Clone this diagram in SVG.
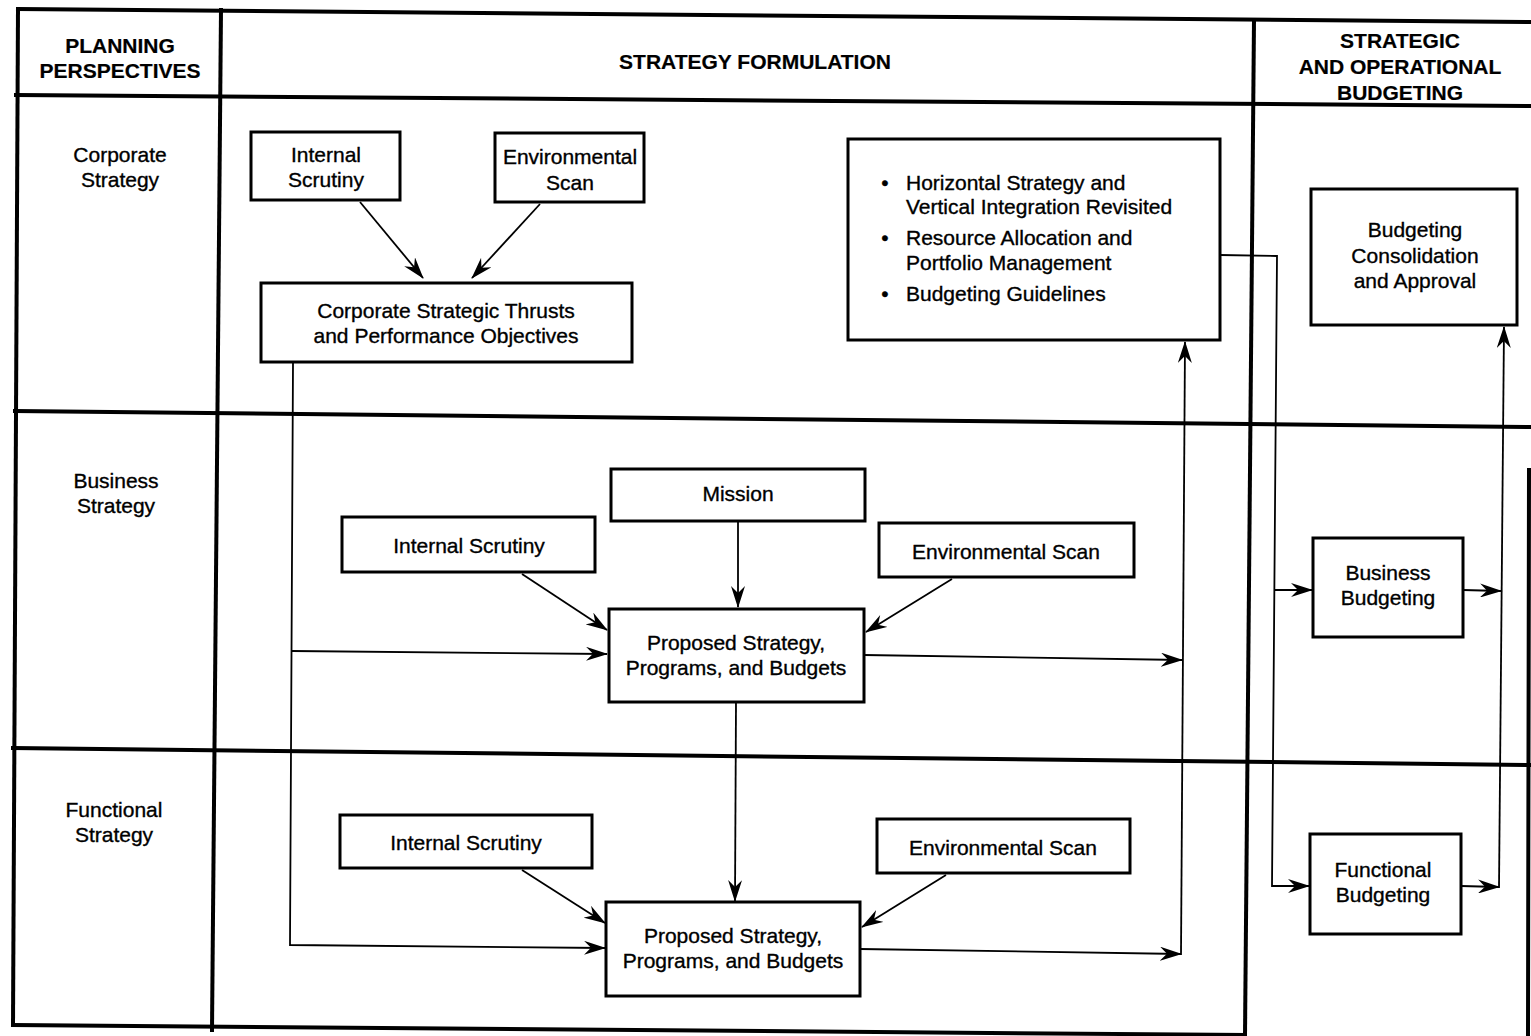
<svg xmlns="http://www.w3.org/2000/svg" width="1531" height="1036" viewBox="0 0 1531 1036">
  <defs>
    <style>
      .frame { stroke: #000; stroke-width: 4; fill: none; stroke-linecap: square; }
      .box { fill: #fff; stroke: #000; stroke-width: 3; }
      .conn { stroke: #000; stroke-width: 1.8; fill: none; }
      .t { font-family: "Liberation Sans", Arial, Helvetica, sans-serif; font-size: 21px; fill: #000; stroke: #000; stroke-width: 0.35; text-anchor: middle; }
      .l { text-anchor: start; }
      .h { font-weight: bold; stroke-width: 0.2; }
    </style>
    <marker id="arr" viewBox="0 0 22 14" refX="21" refY="7" markerWidth="22" markerHeight="14" markerUnits="userSpaceOnUse" orient="auto">
      <path d="M0,0 L22,7 L0,14 L7,7 z" fill="#000"/>
    </marker>
  </defs>

  <rect x="0" y="0" width="1531" height="1036" fill="#fff"/>

  <!-- table grid -->
  <g id="grid">
    <line class="frame" x1="18" y1="9" x2="1531" y2="22"/>
    <line class="frame" x1="16" y1="95" x2="1531" y2="106"/>
    <line class="frame" x1="15" y1="411" x2="1531" y2="427"/>
    <line class="frame" x1="13" y1="748" x2="1531" y2="765"/>
    <line class="frame" x1="13" y1="1025" x2="1245" y2="1035"/>
    <line class="frame" x1="18" y1="9" x2="13" y2="1025"/>
    <line class="frame" x1="221" y1="10" x2="212" y2="1030"/>
    <line class="frame" x1="1254" y1="20" x2="1245" y2="1036"/>
    <line class="frame" x1="1529" y1="470" x2="1528" y2="1036"/>
  </g>

  <!-- column and row headings -->
  <g id="hdr-planning">
    <text class="t h" x="120" y="53">PLANNING</text>
    <text class="t h" x="120" y="78">PERSPECTIVES</text>
  </g>
  <g id="hdr-formulation">
    <text class="t h" x="755" y="69">STRATEGY FORMULATION</text>
  </g>
  <g id="hdr-budgeting">
    <text class="t h" x="1400" y="48">STRATEGIC</text>
    <text class="t h" x="1400" y="74">AND OPERATIONAL</text>
    <text class="t h" x="1400" y="100">BUDGETING</text>
  </g>
  <g id="row-corporate">
    <text class="t" x="120" y="162">Corporate</text>
    <text class="t" x="120" y="187">Strategy</text>
  </g>
  <g id="row-business">
    <text class="t" x="116" y="488">Business</text>
    <text class="t" x="116" y="513">Strategy</text>
  </g>
  <g id="row-functional">
    <text class="t" x="114" y="817">Functional</text>
    <text class="t" x="114" y="842">Strategy</text>
  </g>

  <!-- connectors -->
  <g id="connectors">
    <line class="conn" x1="360" y1="202" x2="423" y2="278" marker-end="url(#arr)"/>
    <line class="conn" x1="540" y1="204" x2="472" y2="278" marker-end="url(#arr)"/>
    <polyline class="conn" points="293,363 290,945 605,948" marker-end="url(#arr)"/>
    <line class="conn" x1="292" y1="651" x2="607" y2="654" marker-end="url(#arr)"/>
    <line class="conn" x1="738" y1="522" x2="738" y2="607" marker-end="url(#arr)"/>
    <line class="conn" x1="522" y1="574" x2="607" y2="630" marker-end="url(#arr)"/>
    <line class="conn" x1="952" y1="579" x2="866" y2="632" marker-end="url(#arr)"/>
    <line class="conn" x1="864" y1="655" x2="1182" y2="660" marker-end="url(#arr)"/>
    <line class="conn" x1="736" y1="702" x2="735" y2="901" marker-end="url(#arr)"/>
    <line class="conn" x1="522" y1="870" x2="605" y2="923" marker-end="url(#arr)"/>
    <line class="conn" x1="946" y1="875" x2="862" y2="927" marker-end="url(#arr)"/>
    <line class="conn" x1="860" y1="949" x2="1181" y2="954" marker-end="url(#arr)"/>
    <line class="conn" x1="1181" y1="955" x2="1185" y2="342" marker-end="url(#arr)"/>
    <polyline class="conn" points="1220,255 1277,256 1272,886 1309,886" marker-end="url(#arr)"/>
    <line class="conn" x1="1275" y1="590" x2="1312" y2="590" marker-end="url(#arr)"/>
    <line class="conn" x1="1463" y1="590" x2="1501" y2="591" marker-end="url(#arr)"/>
    <line class="conn" x1="1461" y1="886" x2="1499" y2="887" marker-end="url(#arr)"/>
    <line class="conn" x1="1499" y1="888" x2="1504" y2="327" marker-end="url(#arr)"/>
  </g>

  <!-- corporate strategy row -->
  <g id="corp-internal">
    <rect class="box" x="251" y="132" width="149" height="68"/>
    <text class="t" x="326" y="162">Internal</text>
    <text class="t" x="326" y="187">Scrutiny</text>
  </g>
  <g id="corp-env">
    <rect class="box" x="495" y="133" width="149" height="69"/>
    <text class="t" x="570" y="164">Environmental</text>
    <text class="t" x="570" y="190">Scan</text>
  </g>
  <g id="corp-thrusts">
    <rect class="box" x="261" y="283" width="371" height="79"/>
    <text class="t" x="446" y="318">Corporate Strategic Thrusts</text>
    <text class="t" x="446" y="343">and Performance Objectives</text>
  </g>
  <g id="corp-portfolio">
    <rect class="box" x="848" y="139" width="372" height="201"/>
    <text class="t" x="885" y="190">•</text>
    <text class="t l" x="906" y="190">Horizontal Strategy and</text>
    <text class="t l" x="906" y="214">Vertical Integration Revisited</text>
    <text class="t" x="885" y="245">•</text>
    <text class="t l" x="906" y="245">Resource Allocation and</text>
    <text class="t l" x="906" y="270">Portfolio Management</text>
    <text class="t" x="885" y="301">•</text>
    <text class="t l" x="906" y="301">Budgeting Guidelines</text>
  </g>
  <g id="budget-consolidation">
    <rect class="box" x="1311" y="189" width="206" height="136"/>
    <text class="t" x="1415" y="237">Budgeting</text>
    <text class="t" x="1415" y="263">Consolidation</text>
    <text class="t" x="1415" y="288">and Approval</text>
  </g>

  <!-- business strategy row -->
  <g id="biz-mission">
    <rect class="box" x="611" y="469" width="254" height="52"/>
    <text class="t" x="738" y="501">Mission</text>
  </g>
  <g id="biz-internal">
    <rect class="box" x="342" y="517" width="253" height="55"/>
    <text class="t" x="469" y="553">Internal Scrutiny</text>
  </g>
  <g id="biz-env">
    <rect class="box" x="879" y="523" width="255" height="54"/>
    <text class="t" x="1006" y="559">Environmental Scan</text>
  </g>
  <g id="biz-proposed">
    <rect class="box" x="609" y="609" width="255" height="93"/>
    <text class="t" x="736" y="650">Proposed Strategy,</text>
    <text class="t" x="736" y="675">Programs, and Budgets</text>
  </g>
  <g id="business-budgeting">
    <rect class="box" x="1313" y="538" width="150" height="99"/>
    <text class="t" x="1388" y="580">Business</text>
    <text class="t" x="1388" y="605">Budgeting</text>
  </g>

  <!-- functional strategy row -->
  <g id="fn-internal">
    <rect class="box" x="340" y="815" width="252" height="53"/>
    <text class="t" x="466" y="850">Internal Scrutiny</text>
  </g>
  <g id="fn-env">
    <rect class="box" x="877" y="819" width="253" height="54"/>
    <text class="t" x="1003" y="855">Environmental Scan</text>
  </g>
  <g id="fn-proposed">
    <rect class="box" x="606" y="902" width="254" height="94"/>
    <text class="t" x="733" y="943">Proposed Strategy,</text>
    <text class="t" x="733" y="968">Programs, and Budgets</text>
  </g>
  <g id="functional-budgeting">
    <rect class="box" x="1310" y="834" width="151" height="100"/>
    <text class="t" x="1383" y="877">Functional</text>
    <text class="t" x="1383" y="902">Budgeting</text>
  </g>
</svg>
